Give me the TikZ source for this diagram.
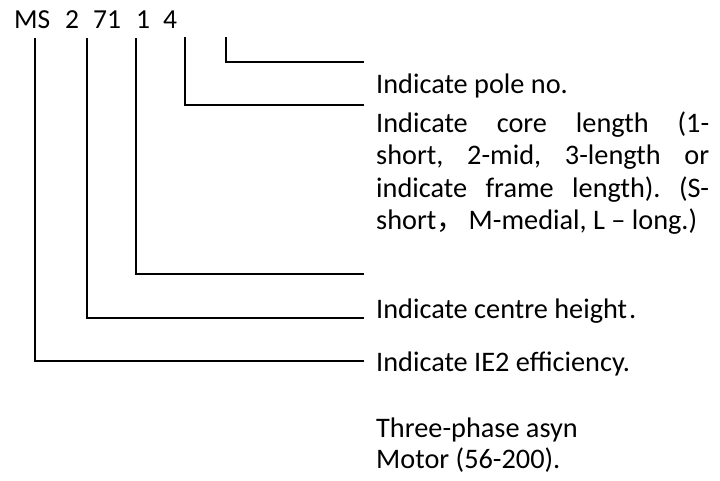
\documentclass[tikz,border=0pt]{standalone}
\usepackage{fontspec}
\setmainfont{Carlito}
\newfontfamily\cjk{Noto Sans CJK SC}
\begin{document}
\begin{tikzpicture}[x=1pt,y=-1pt,
  txt/.style={anchor=base west,inner sep=0pt,font=\fontsize{28.3}{32.5}\selectfont},
  hdr/.style={anchor=base west,inner sep=0pt,font=\fontsize{27.5}{30}\selectfont},
  ln/.style={line width=2pt}]
\useasboundingbox (0,0) rectangle (720,480);
% header
\node[hdr] (code) at (14,28) {\makebox[51pt][l]{MS}\makebox[28pt][l]{2}\makebox[43pt][l]{71}\makebox[27pt][l]{1}4};
% labels
\node[txt] (pole) at (376,93) {Indicate pole no.};
\node[txt] (core1) at (376,132) {\hbox to 333pt{Indicate\hfil core\hfil length\hfil (1-}};
\node[txt] (core2) at (376,164.5) {\hbox to 333pt{short,\hfil 2-mid,\hfil 3-length\hfil or}};
\node[txt] (core3) at (376,197) {\hbox to 333pt{indicate\hfil frame\hfil length).\hfil (S-}};
\node[txt] (core4) at (376,229.5) {short{\cjk ，}\kern4pt M-medial, L – long.)};
\node[txt] (centre) at (376,318) {Indicate centre height\kern2pt.};
\node[txt] (eff) at (376,371) {Indicate IE2 efficiency.};
\node[txt] (three) at (376,437) {Three-phase asyn};
\node[txt] (motor) at (376,468) {Motor (56-200).};
% connector anchor points
\coordinate (t1) at (35,38);  \coordinate (e1) at (364,361);
\coordinate (t2) at (87,38);  \coordinate (e2) at (364,318);
\coordinate (t3) at (136,38); \coordinate (e3) at (364,274);
\coordinate (t4) at (185,37); \coordinate (e4) at (364,105);
\coordinate (t5) at (226,37); \coordinate (e5) at (364,62);
\draw[ln] (t1) |- (e1);
\draw[ln] (t2) |- (e2);
\draw[ln] (t3) |- (e3);
\draw[ln] (t4) |- (e4);
\draw[ln] (t5) |- (e5);
\end{tikzpicture}
\end{document}
